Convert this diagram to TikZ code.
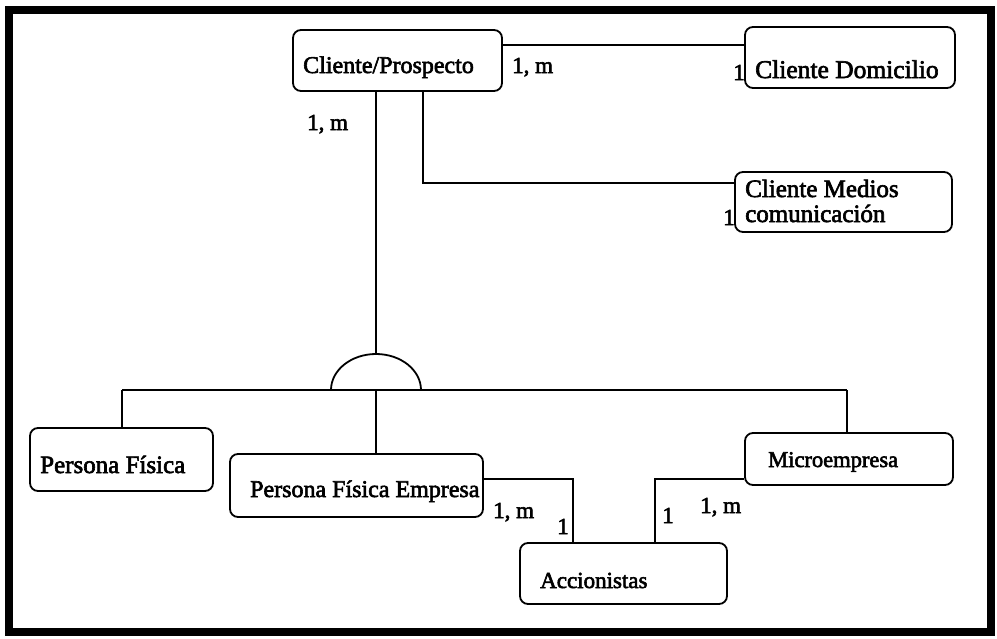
\documentclass[tikz,border=0pt]{standalone}
\usepackage{fontspec}
\usetikzlibrary{calc}
\setmainfont{Liberation Serif}[RawFeature={embolden=2.5}]
\begin{document}
\begin{tikzpicture}[x=1pt,y=-1pt,
  box/.style={draw,line width=1.8pt,rounded corners=8pt,inner sep=0pt},
  conn/.style={line width=1.8pt},
  txt/.style={inner sep=0pt,anchor=base west},
  card/.style={inner sep=0pt,anchor=base west,font=\fontsize{23pt}{25pt}\selectfont},
  one/.style={inner sep=0pt,anchor=base,font=\fontsize{23pt}{25pt}\selectfont}]
\useasboundingbox (0,0) rectangle (997,638);

% outer frame
\draw[line width=8pt] (8.5,10) rectangle (991,632);

% entity boxes
\node[box,minimum width=209pt,minimum height=61pt] (cp)  at (397.5,60.5) {};
\node[box,minimum width=210pt,minimum height=61pt] (dom) at (850,57.5) {};
\node[box,minimum width=217pt,minimum height=60pt] (med) at (843.5,202) {};
\node[box,minimum width=183pt,minimum height=63pt] (pf)  at (121.5,459.5) {};
\node[box,minimum width=253pt,minimum height=63pt] (pfe) at (356.5,485.5) {};
\node[box,minimum width=207pt,minimum height=61pt] (acc) at (623.5,573.5) {};
\node[box,minimum width=208pt,minimum height=52pt] (mic) at (849,459) {};

% entity names
\node[txt,font=\fontsize{24pt}{26pt}\selectfont] (cpt) at (303,73) {Cliente/Prospecto};
\node[txt,font=\fontsize{25.5pt}{27pt}\selectfont] (domt) at (755,78) {Cliente Domicilio};
\node[txt,align=left,font=\fontsize{25pt}{25pt}\selectfont] (medt) at (745,222) {Cliente Medios\\comunicación};
\node[txt,font=\fontsize{25pt}{27pt}\selectfont] (pft) at (40,473) {Persona Física};
\node[txt,font=\fontsize{24pt}{26pt}\selectfont] (pfet) at (250,497) {Persona Física Empresa};
\node[txt,font=\fontsize{23pt}{25pt}\selectfont] (acct) at (540,588) {Accionistas};
\node[txt,font=\fontsize{22.5pt}{24pt}\selectfont] (mict) at (768,467) {Microempresa};

% routing coordinates
\coordinate (yTop) at (0,45);
\coordinate (xMed) at (423,0);
\coordinate (yMed) at (0,183);
\coordinate (isa) at (376,390);
\coordinate (isatop) at (376,354);
\coordinate (barL) at (122,390);
\coordinate (barR) at (847,390);
\coordinate (yAcc) at (0,479);
\coordinate (xAccL) at (573,0);
\coordinate (xAccR) at (655,0);

% relationships
\draw[conn] (cp.east |- yTop) -- (dom.west |- yTop);
\draw[conn] (cp.south -| xMed) -- (xMed |- yMed) -- (med.west |- yMed);
\draw[conn] (cp.south -| isatop) -- (isatop);

% generalisation symbol
\draw[conn] ($(isa)+(45pt,0pt)$) arc[start angle=0,end angle=180,x radius=45pt,y radius=36pt];
\draw[conn] (barL) -- (barR);
\draw[conn] (barL) -- (pf.north -| barL);
\draw[conn] (isa) -- (pfe.north -| isa);
\draw[conn] (barR) -- (mic.north -| barR);

\draw[conn] (pfe.east |- yAcc) -- (xAccL |- yAcc) -- (acc.north -| xAccL);
\draw[conn] (mic.west |- yAcc) -- (xAccR |- yAcc) -- (acc.north -| xAccR);

% cardinalities
\node[card] (c1) at (512,73) {1, m};
\node[one]  (c2) at (739,80) {1};
\node[card] (c3) at (307,130) {1, m};
\node[one]  (c4) at (729,225) {1};
\node[card] (c5) at (493,518) {1, m};
\node[one]  (c6) at (563,534) {1};
\node[card] (c7) at (700,513) {1, m};
\node[one]  (c8) at (668,523) {1};
\end{tikzpicture}
\end{document}
